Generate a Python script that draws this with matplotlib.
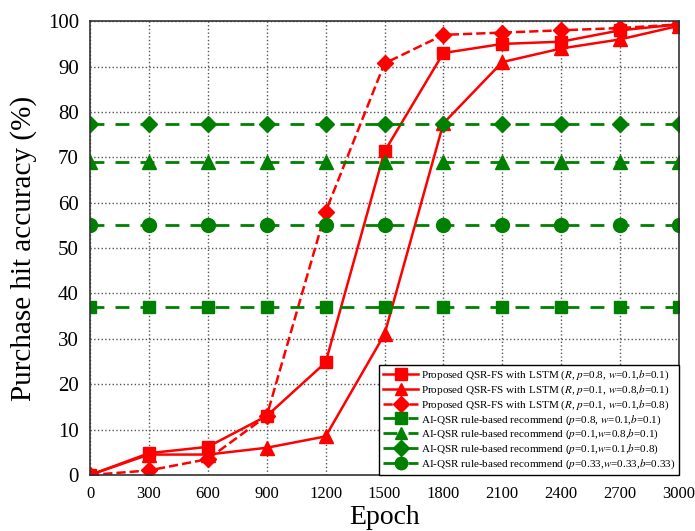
import matplotlib
matplotlib.use("Agg")
import matplotlib.pyplot as plt

plt.rcParams['font.family'] = ['Liberation Serif', 'DejaVu Serif']
plt.rcParams['mathtext.fontset'] = 'stix'

# data
epochs = [0, 300, 600, 900, 1200, 1500, 1800, 2100, 2400, 2700, 3000]
lstm_sq = [0, 4.8, 6.2, 13, 24.8, 71.3, 93, 95, 95.5, 98, 99.3]
lstm_tri = [0, 4.5, 4.5, 6, 8.5, 31, 77.5, 91, 94, 96, 99]
lstm_dia = [0, 1, 3.5, 13, 58, 90.7, 97, 97.5, 98, 98.5, 99.3]
rule_sq = 37
rule_tri = 69
rule_dia = 77.3
rule_circ = 55

labels = [
    r"Proposed QSR-FS with LSTM ($R$, $p$=0.8, $w$=0.1,$b$=0.1)",
    r"Proposed QSR-FS with LSTM ($R$, $p$=0.1, $w$=0.8,$b$=0.1)",
    r"Proposed QSR-FS with LSTM ($R$, $p$=0.1, $w$=0.1,$b$=0.8)",
    r"AI-QSR rule-based recommend ($p$=0.8, $w$=0.1,$b$=0.1)",
    r"AI-QSR rule-based recommend ($p$=0.1,$w$=0.8,$b$=0.1)",
    r"AI-QSR rule-based recommend ($p$=0.1,$w$=0.1,$b$=0.8)",
    r"AI-QSR rule-based recommend ($p$=0.33,$w$=0.33,$b$=0.33)",
]

fig = plt.figure(figsize=(6.95, 5.31), dpi=100)
ax = fig.add_axes([0.1295, 0.1055, 0.8475, 0.8545])

red = '#ff0000'
green = '#008000'

ax.plot(epochs, lstm_sq, '-', color=red, marker='s', ms=9, lw=1.8, label=labels[0])
ax.plot(epochs, lstm_tri, '-', color=red, marker='^', ms=10, lw=1.8, label=labels[1])
ax.plot(epochs, lstm_dia, '--', color=red, marker='D', ms=8.5, lw=1.8, label=labels[2])

for val, mk, ms, lab in [(rule_sq, 's', 9, labels[3]), (rule_tri, '^', 10, labels[4]),
                         (rule_dia, 'D', 8.5, labels[5]), (rule_circ, 'o', 10, labels[6])]:
    ax.plot(epochs, [val] * len(epochs), '--', color=green, marker=mk, ms=ms,
            lw=2, dashes=(5, 4), label=lab)

ax.set_xlim(0, 3000)
ax.set_ylim(0, 100)
ax.set_xticks(epochs)
ax.set_yticks(range(0, 101, 10))
ax.tick_params(length=0)
ax.tick_params(axis='x', labelsize=12, pad=8)
ax.tick_params(axis='y', labelsize=15, pad=8)
ax.grid(True, linestyle=':', color='#555555', lw=1)
for s in ax.spines.values():
    s.set_color('#333333')
    s.set_linewidth(1.2)

ax.set_xlabel('Epoch', fontsize=20, labelpad=2)
ax.set_ylabel('Purchase hit accuracy (%)', fontsize=21, labelpad=8)

leg = ax.legend(loc='lower right', fontsize=8, frameon=True, fancybox=False,
                edgecolor='black', framealpha=1, handlelength=3.2,
                borderaxespad=0.0, labelspacing=0.12, handletextpad=0.2,
                borderpad=0.35, markerscale=0.9)
leg.get_frame().set_linewidth(1)

fig.savefig('out.png', dpi=100)
